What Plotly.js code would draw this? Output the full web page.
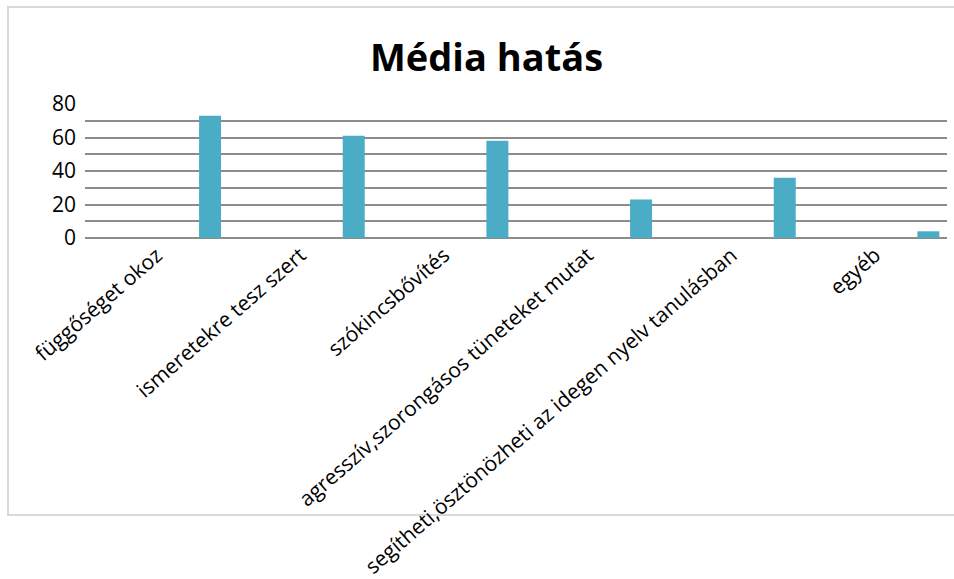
<!DOCTYPE html>
<html>
<head>
<meta charset="utf-8">
<script src="https://cdn.plot.ly/plotly-3.0.1.min.js"></script>
<style>
  html, body { margin: 0; padding: 0; background: #ffffff; }
  #chart { width: 954px; height: 579px; }
</style>
</head>
<body>
<div id="chart"></div>
<script>
const categories = [
  "függőséget okoz",
  "ismeretekre tesz szert",
  "szókincsbővítés",
  "agresszív,szorongásos tüneteket mutat",
  "segítheti,ösztönözheti az idegen nyelv tanulásban",
  "egyéb"
];
const values = [73, 61, 58, 23, 36, 4];
const yTickVals = [0, 20, 40, 60, 80];
const yTickText = ["0", "20", "40", "60", "80"];
const chartTitle = "Média hatás";

const trace = {
  type: "bar",
  x: categories,
  y: values,
  width: 0.153,
  offset: 0.294,
  marker: { color: "#4BACC6" },
  hoverinfo: "x+y"
};

const layout = {
  width: 954,
  height: 579,
  paper_bgcolor: "#ffffff",
  plot_bgcolor: "#ffffff",
  showlegend: false,
  margin: { l: 85, r: 7, t: 104, b: 341, autoexpand: false },
  font: { family: "Open Sans, sans-serif", color: "#000000" },
  title: {
    text: "<b>" + chartTitle + "</b>",
    font: { family: "Open Sans, sans-serif", size: 38, color: "#000000" },
    xref: "container", yref: "container",
    x: 0.51, xanchor: "center",
    y: 0.9, yanchor: "middle"
  },
  xaxis: {
    type: "category",
    tickangle: -41,
    tickfont: { size: 21, color: "#000000" },
    showgrid: false,
    showline: false,
    ticks: "",
    automargin: false
  },
  yaxis: {
    range: [0, 80],
    tickvals: yTickVals,
    ticktext: yTickText,
    tickfont: { size: 21, color: "#000000" },
    showgrid: true,
    gridcolor: "#8c8c8c",
    gridwidth: 2,
    zeroline: true,
    zerolinecolor: "#8c8c8c",
    zerolinewidth: 2,
    showline: false,
    ticks: "",
    ticklabelstandoff: 8,
    minor: { dtick: 10, tick0: 0, showgrid: true, gridcolor: "#8c8c8c", gridwidth: 2, ticks: "" },
    automargin: false
  },
  shapes: [{
    type: "rect",
    xref: "paper", yref: "paper",
    x0: -0.0893, x1: 1.02,
    y0: -2.067, y1: 1.724,
    line: { color: "#d9d9d9", width: 2 },
    fillcolor: "rgba(0,0,0,0)",
    layer: "below"
  }]
};

Plotly.newPlot("chart", [trace], layout, { displayModeBar: false, staticPlot: true });
</script>
</body>
</html>
